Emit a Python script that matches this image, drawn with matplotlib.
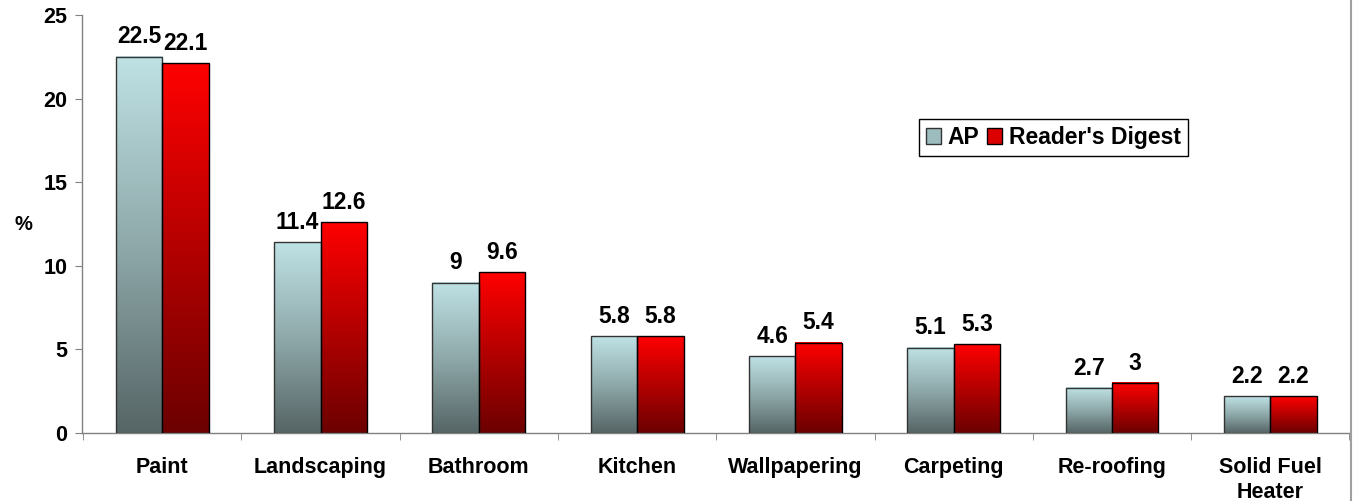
import matplotlib.pyplot as plt
import numpy as np
from matplotlib.colors import LinearSegmentedColormap
from matplotlib.patches import Rectangle

categorias = ["Paint", "Landscaping", "Bathroom", "Kitchen", "Wallpapering",
              "Carpeting", "Re-roofing", "Solid Fuel\nHeater"]
ap = [22.5, 11.4, 9, 5.8, 4.6, 5.1, 2.7, 2.2]
readers_digest = [22.1, 12.6, 9.6, 5.8, 5.4, 5.3, 3, 2.2]
rotulos_ap = ["22.5", "11.4", "9", "5.8", "4.6", "5.1", "2.7", "2.2"]
rotulos_rd = ["22.1", "12.6", "9.6", "5.8", "5.4", "5.3", "3", "2.2"]

plt.rcParams['font.family'] = ['Liberation Sans', 'DejaVu Sans']
plt.rcParams['font.weight'] = 'bold'

fig = plt.figure(figsize=(13.53, 5.01), dpi=100)
ax = fig.add_axes([81.5 / 1353, 68 / 501, 1268 / 1353, 418 / 501])

cmap_ap = LinearSegmentedColormap.from_list('ap', ['#566566', '#8fa9aa', '#bfe2e5'])
cmap_rd = LinearSegmentedColormap.from_list('rd', ['#6c0000', '#b40000', '#ff0000'])
grad = np.linspace(0, 1, 256).reshape(-1, 1)

largura = 0.293
x = np.arange(len(categorias))

def barra_gradiente(x0, h, cmap, borda):
    ax.imshow(grad, cmap=cmap, origin='lower', aspect='auto',
              extent=(x0, x0 + largura, 0, h), zorder=2)
    ax.add_patch(Rectangle((x0, 0), largura, h, fill=False, edgecolor=borda,
                           linewidth=1.0, zorder=3))

for i in range(len(categorias)):
    barra_gradiente(x[i] - largura, ap[i], cmap_ap, '#333333')
    barra_gradiente(x[i], readers_digest[i], cmap_rd, '#000000')
    ax.annotate(rotulos_ap[i], (x[i] - largura / 2, ap[i]), xytext=(0, 6),
                textcoords='offset points', ha='center', va='bottom',
                fontsize=16.5, fontweight='bold')
    ax.annotate(rotulos_rd[i], (x[i] + largura / 2, readers_digest[i]), xytext=(0, 6),
                textcoords='offset points', ha='center', va='bottom',
                fontsize=16.5, fontweight='bold')

ax.set_xlim(-0.51, 7.49)
ax.set_ylim(0, 25)
ax.set_yticks([0, 5, 10, 15, 20, 25])
ax.tick_params(axis='y', labelsize=15.5, length=5, color='#808080', pad=5)
ax.set_xticks(x)
ax.set_xticklabels(categorias, fontsize=15.5, fontweight='bold', linespacing=1.25)
ax.set_xticks(np.arange(-0.5, 8, 1), minor=True)
ax.tick_params(axis='x', which='major', length=0, pad=17)
ax.tick_params(axis='x', which='minor', length=5, color='#808080')
for lbl in ax.get_yticklabels():
    lbl.set_fontweight('bold')

for s in ['top', 'right']:
    ax.spines[s].set_visible(False)
for s in ['left', 'bottom']:
    ax.spines[s].set_color('#808080')
    ax.spines[s].set_linewidth(1)

ax.set_ylabel('%', rotation=0, fontsize=14.5, fontweight='bold', va='center', ha='center')
ax.yaxis.set_label_coords(-58.5 / 1268, (433 - 224) / 418)

# legenda
h_ap = Rectangle((0, 0), 1, 1, facecolor='#9dbcbe', edgecolor='#333333')
h_rd = Rectangle((0, 0), 1, 1, facecolor='#dd0000', edgecolor='#000000')
leg = ax.legend([h_ap, h_rd], ['AP', "Reader's Digest"], loc='center',
                bbox_to_anchor=((1053.5 - 81.5) / 1268, (433 - 137.5) / 418), ncol=2,
                fancybox=False, framealpha=1, edgecolor='#000000', fontsize=16.5,
                handlelength=0.65, handleheight=0.65, handletextpad=0.3,
                columnspacing=0.35, borderpad=0.3, borderaxespad=0)
leg.get_frame().set_linewidth(1)
for t in leg.get_texts():
    t.set_fontweight('bold')

fig.add_artist(plt.Line2D([1350.5 / 1353, 1350.5 / 1353], [0, 1], color='#a0a0a0', linewidth=1.5))

fig.savefig('out.png', dpi=100)
